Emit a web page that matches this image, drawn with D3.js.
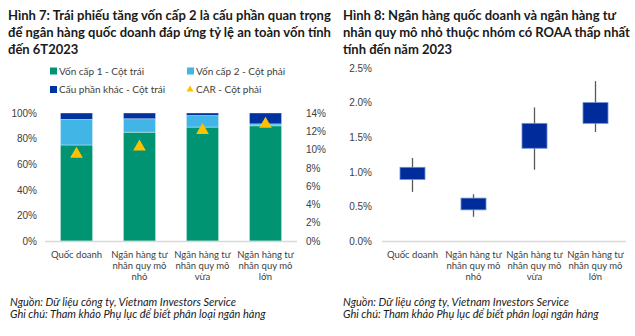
<!DOCTYPE html>
<html>
<head>
<meta charset="utf-8">
<script src="https://cdn.jsdelivr.net/npm/d3@7"></script>
<style>
  body { margin: 0; background: #fff; }
  svg { display: block; font-family: Lato, "Open Sans", sans-serif; }
  .tick text { fill: #404040; font-size: 10px; }
</style>
</head>
<body>
<div id="chart"></div>
<script>
// categories (shared by both charts), split into label lines
var categories = ["Quốc doanh", "Ngân hàng tư nhân quy mô nhỏ", "Ngân hàng tư nhân quy mô vừa", "Ngân hàng tư nhân quy mô lớn"];
var categoryLines = [["Quốc doanh"], ["Ngân hàng tư", "nhân quy mô", "nhỏ"], ["Ngân hàng tư", "nhân quy mô", "vừa"], ["Ngân hàng tư", "nhân quy mô", "lớn"]];

// chart 7: capital structure (left axis) and CAR (right axis)
var tier1 = [0.75, 0.85, 0.89, 0.90];
var tier2 = [0.20, 0.105, 0.09, 0.015];
var otherPart = [0.05, 0.045, 0.02, 0.085];
var car = [0.095, 0.103, 0.121, 0.128];
var leftTicks = [0, 0.2, 0.4, 0.6, 0.8, 1];
var rightTicks = [0, 0.02, 0.04, 0.06, 0.08, 0.10, 0.12, 0.14];

// chart 8: ROAA range per group (%)
var boxLow = [0.89, 0.45, 1.34, 1.70];
var boxHigh = [1.065, 0.62, 1.70, 2.00];
var whiskerLow = [0.71, 0.35, 1.03, 1.575];
var whiskerHigh = [1.20, 0.675, 1.93, 2.31];
var roaaTicks = [0, 0.5, 1.0, 1.5, 2.0, 2.5];

var colors = { tier1: "#009473", tier2: "#41B6E6", other: "#0033A0", car: "#FFC000" };

var svg = d3.select("#chart").append("svg")
  .attr("width", 635)
  .attr("height", 336);

// titles
function titleBlock(x, lines) {
  lines.forEach(function (t, i) {
    svg.append("text")
      .attr("x", x)
      .attr("y", 20 + i * 17)
      .attr("font-weight", "bold")
      .attr("font-size", "13px")
      .attr("fill", "#1a1a1a")
      .text(t);
  });
}
titleBlock(8, ["Hình 7: Trái phiếu tăng vốn cấp 2 là cấu phần quan trọng", "để ngân hàng quốc doanh đáp ứng tỷ lệ an toàn vốn tính", "đến 6T2023"]);
titleBlock(343, ["Hình 8: Ngân hàng quốc doanh và ngân hàng tư", "nhân quy mô nhỏ thuộc nhóm có ROAA thấp nhất", "tính đến năm 2023"]);

// footnotes
function notes(x) {
  ["Nguồn: Dữ liệu công ty, Vietnam Investors Service", "Ghi chú: Tham khảo Phụ lục để biết phân loại ngân hàng"].forEach(function (t, i) {
    svg.append("text")
      .attr("x", x)
      .attr("y", 306 + i * 12)
      .attr("font-style", "italic")
      .attr("font-size", "11px")
      .attr("fill", "#1a1a1a")
      .text(t);
  });
}
notes(10);
notes(343);

function categoryLabels(g, xScale, y0) {
  categoryLines.forEach(function (lines, i) {
    lines.forEach(function (t, j) {
      g.append("text")
        .attr("x", xScale(categories[i]) + xScale.bandwidth() / 2)
        .attr("y", y0 + j * 11)
        .attr("text-anchor", "middle")
        .attr("font-size", "9.5px")
        .attr("fill", "#404040")
        .text(t);
    });
  });
}

// ---------- chart 7 ----------
var x7 = d3.scaleBand().domain(categories).range([45, 297]).paddingInner(0.49).paddingOuter(0.245);
var yL = d3.scaleLinear().domain([0, 1]).range([241, 113]);
var yR = d3.scaleLinear().domain([0, 0.14]).range([241, 113]);

svg.append("g")
  .attr("transform", "translate(37,0)")
  .call(d3.axisLeft(yL).tickValues(leftTicks).tickFormat(d3.format(".0%")).tickSize(0).tickPadding(0))
  .call(function (g) { g.select(".domain").remove(); });

svg.append("g")
  .attr("transform", "translate(306,0)")
  .call(d3.axisRight(yR).tickValues(rightTicks).tickFormat(d3.format(".0%")).tickSize(0).tickPadding(0))
  .call(function (g) { g.select(".domain").remove(); });

var stacks = [
  { key: "tier1", vals: tier1 },
  { key: "tier2", vals: tier2 },
  { key: "other", vals: otherPart }
];
categories.forEach(function (c, i) {
  var base = 0;
  stacks.forEach(function (s) {
    var v = s.vals[i];
    svg.append("rect")
      .attr("x", x7(c))
      .attr("width", x7.bandwidth())
      .attr("y", yL(base + v))
      .attr("height", yL(base) - yL(base + v))
      .attr("fill", colors[s.key])
      .attr("stroke", "#ffffff")
      .attr("stroke-opacity", 0.45)
      .attr("stroke-width", 0.8);
    base += v;
  });
});

svg.append("line")
  .attr("x1", 45).attr("x2", 297)
  .attr("y1", 241.5).attr("y2", 241.5)
  .attr("stroke", "#d9d9d9").attr("stroke-width", 1.5);

svg.selectAll("path.car").data(car).enter().append("path")
  .attr("class", "car")
  .attr("d", d3.symbol().type(d3.symbolTriangle).size(70))
  .attr("transform", function (d, i) { return "translate(" + (x7(categories[i]) + x7.bandwidth() / 2) + "," + yR(d) + ")"; })
  .attr("fill", colors.car);

categoryLabels(svg, x7, 258);

// legend
var legend = [
  { label: "Vốn cấp 1 - Cột trái", color: colors.tier1, x: 50, y: 71, tri: false },
  { label: "Vốn cấp 2 - Cột phải", color: colors.tier2, x: 187, y: 71, tri: false },
  { label: "Cấu phần khác - Cột trái", color: colors.other, x: 50, y: 89.5, tri: false },
  { label: "CAR - Cột phải", color: colors.car, x: 187, y: 89.5, tri: true }
];
legend.forEach(function (d) {
  if (d.tri) {
    svg.append("path")
      .attr("d", d3.symbol().type(d3.symbolTriangle).size(22))
      .attr("transform", "translate(" + (d.x + 3) + "," + d.y + ")")
      .attr("fill", d.color);
  } else {
    svg.append("rect")
      .attr("x", d.x).attr("y", d.y - 3.5)
      .attr("width", 7).attr("height", 7)
      .attr("fill", d.color);
  }
  svg.append("text")
    .attr("x", d.x + 9)
    .attr("y", d.y + 3.5)
    .attr("font-size", "10px")
    .attr("fill", "#404040")
    .text(d.label);
});

// ---------- chart 8 ----------
var x8 = d3.scaleBand().domain(categories).range([382, 626]).paddingInner(0.59).paddingOuter(0.295);
var y8 = d3.scaleLinear().domain([0, 2.5]).range([241, 68]);

svg.append("g")
  .attr("transform", "translate(372,0)")
  .call(d3.axisLeft(y8).tickValues(roaaTicks).tickFormat(function (d) { return d.toFixed(1) + "%"; }).tickSize(0).tickPadding(0))
  .call(function (g) { g.select(".domain").remove(); });

svg.append("line")
  .attr("x1", 382).attr("x2", 626)
  .attr("y1", 241.5).attr("y2", 241.5)
  .attr("stroke", "#d9d9d9").attr("stroke-width", 1.5);

categories.forEach(function (c, i) {
  var cx = x8(c) + x8.bandwidth() / 2;
  svg.append("line")
    .attr("x1", cx).attr("x2", cx)
    .attr("y1", y8(whiskerHigh[i])).attr("y2", y8(whiskerLow[i]))
    .attr("stroke", "#595959").attr("stroke-width", 1.3);
  svg.append("rect")
    .attr("x", x8(c))
    .attr("width", x8.bandwidth())
    .attr("y", y8(boxHigh[i]))
    .attr("height", y8(boxLow[i]) - y8(boxHigh[i]))
    .attr("fill", "#002B9A")
    .attr("stroke", "#6f8fd6")
    .attr("stroke-width", 0.8);
});

categoryLabels(svg, x8, 258);
</script>
</body>
</html>
